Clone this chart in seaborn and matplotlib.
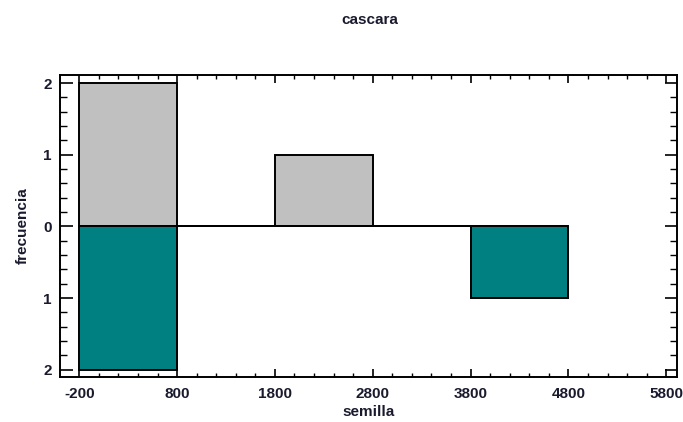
import matplotlib
matplotlib.use("Agg")
import matplotlib.pyplot as plt
from matplotlib.ticker import MultipleLocator, FuncFormatter, FixedLocator
import numpy as np
import seaborn as sns

# ---- data ----
bin_edges = [-200, 800, 1800, 2800, 3800, 4800]
cascara_counts = [2, 0, 1, 0, 0]
semilla_counts = [2, 0, 0, 0, 1]
x_ticks = [-200, 800, 1800, 2800, 3800, 4800, 5800]
y_ticks = [-2, -1, 0, 1, 2]

sns.set_style("ticks")
plt.rcParams['font.family'] = ['Liberation Sans', 'DejaVu Sans']
plt.rcParams['axes.unicode_minus'] = False

fig = plt.figure(figsize=(6.83, 4.22), dpi=100)
ax = fig.add_axes([60 / 683, 45 / 422, 617 / 683, 302.5 / 422])

centers = [(a + b) / 2 for a, b in zip(bin_edges[:-1], bin_edges[1:])]
sns.histplot(x=centers, weights=cascara_counts, bins=bin_edges, ax=ax,
             color="#c0c0c0", alpha=1, edgecolor="black", linewidth=1.4)
sns.histplot(x=centers, weights=[-c for c in semilla_counts], bins=bin_edges, ax=ax,
             color="#008080", alpha=1, edgecolor="black", linewidth=1.4)

ax.set_xlim(-397, 5910)
ax.set_ylim(-2.1, 2.12)
ax.xaxis.set_major_locator(FixedLocator(x_ticks))
ax.xaxis.set_minor_locator(MultipleLocator(200))
ax.yaxis.set_major_locator(FixedLocator(y_ticks))
ax.yaxis.set_minor_locator(MultipleLocator(0.2))
ax.xaxis.set_major_formatter(FuncFormatter(lambda v, p: f"{int(round(v))}"))
ax.yaxis.set_major_formatter(FuncFormatter(lambda v, p: f"{abs(int(round(v)))}"))

ax.tick_params(which="both", direction="in", top=True, right=True, color="black")
ax.tick_params(axis="y", which="major", length=9, width=1.2, pad=6)
ax.tick_params(axis="y", which="minor", length=5, width=1.0)
ax.tick_params(axis="x", which="major", length=6, width=1.2, pad=7)
ax.tick_params(axis="x", which="minor", length=3, width=1.0)
for lab in ax.get_xticklabels() + ax.get_yticklabels():
    lab.set_fontsize(11)
    lab.set_fontweight("bold")
    lab.set_color("#1a1a2e")
for s in ax.spines.values():
    s.set_linewidth(1.4)
    s.set_color("black")

ax.set_xlabel("semilla", fontsize=11, fontweight="bold", color="#1a1a2e", labelpad=3)
ax.set_ylabel("frecuencia", fontsize=11, fontweight="bold", color="#1a1a2e", labelpad=10)
fig.text(0.5415, 1 - 20 / 422, "cascara", ha="center", va="center",
         fontsize=11, fontweight="bold", color="#1a1a2e")

fig.savefig("out.png", dpi=100)
